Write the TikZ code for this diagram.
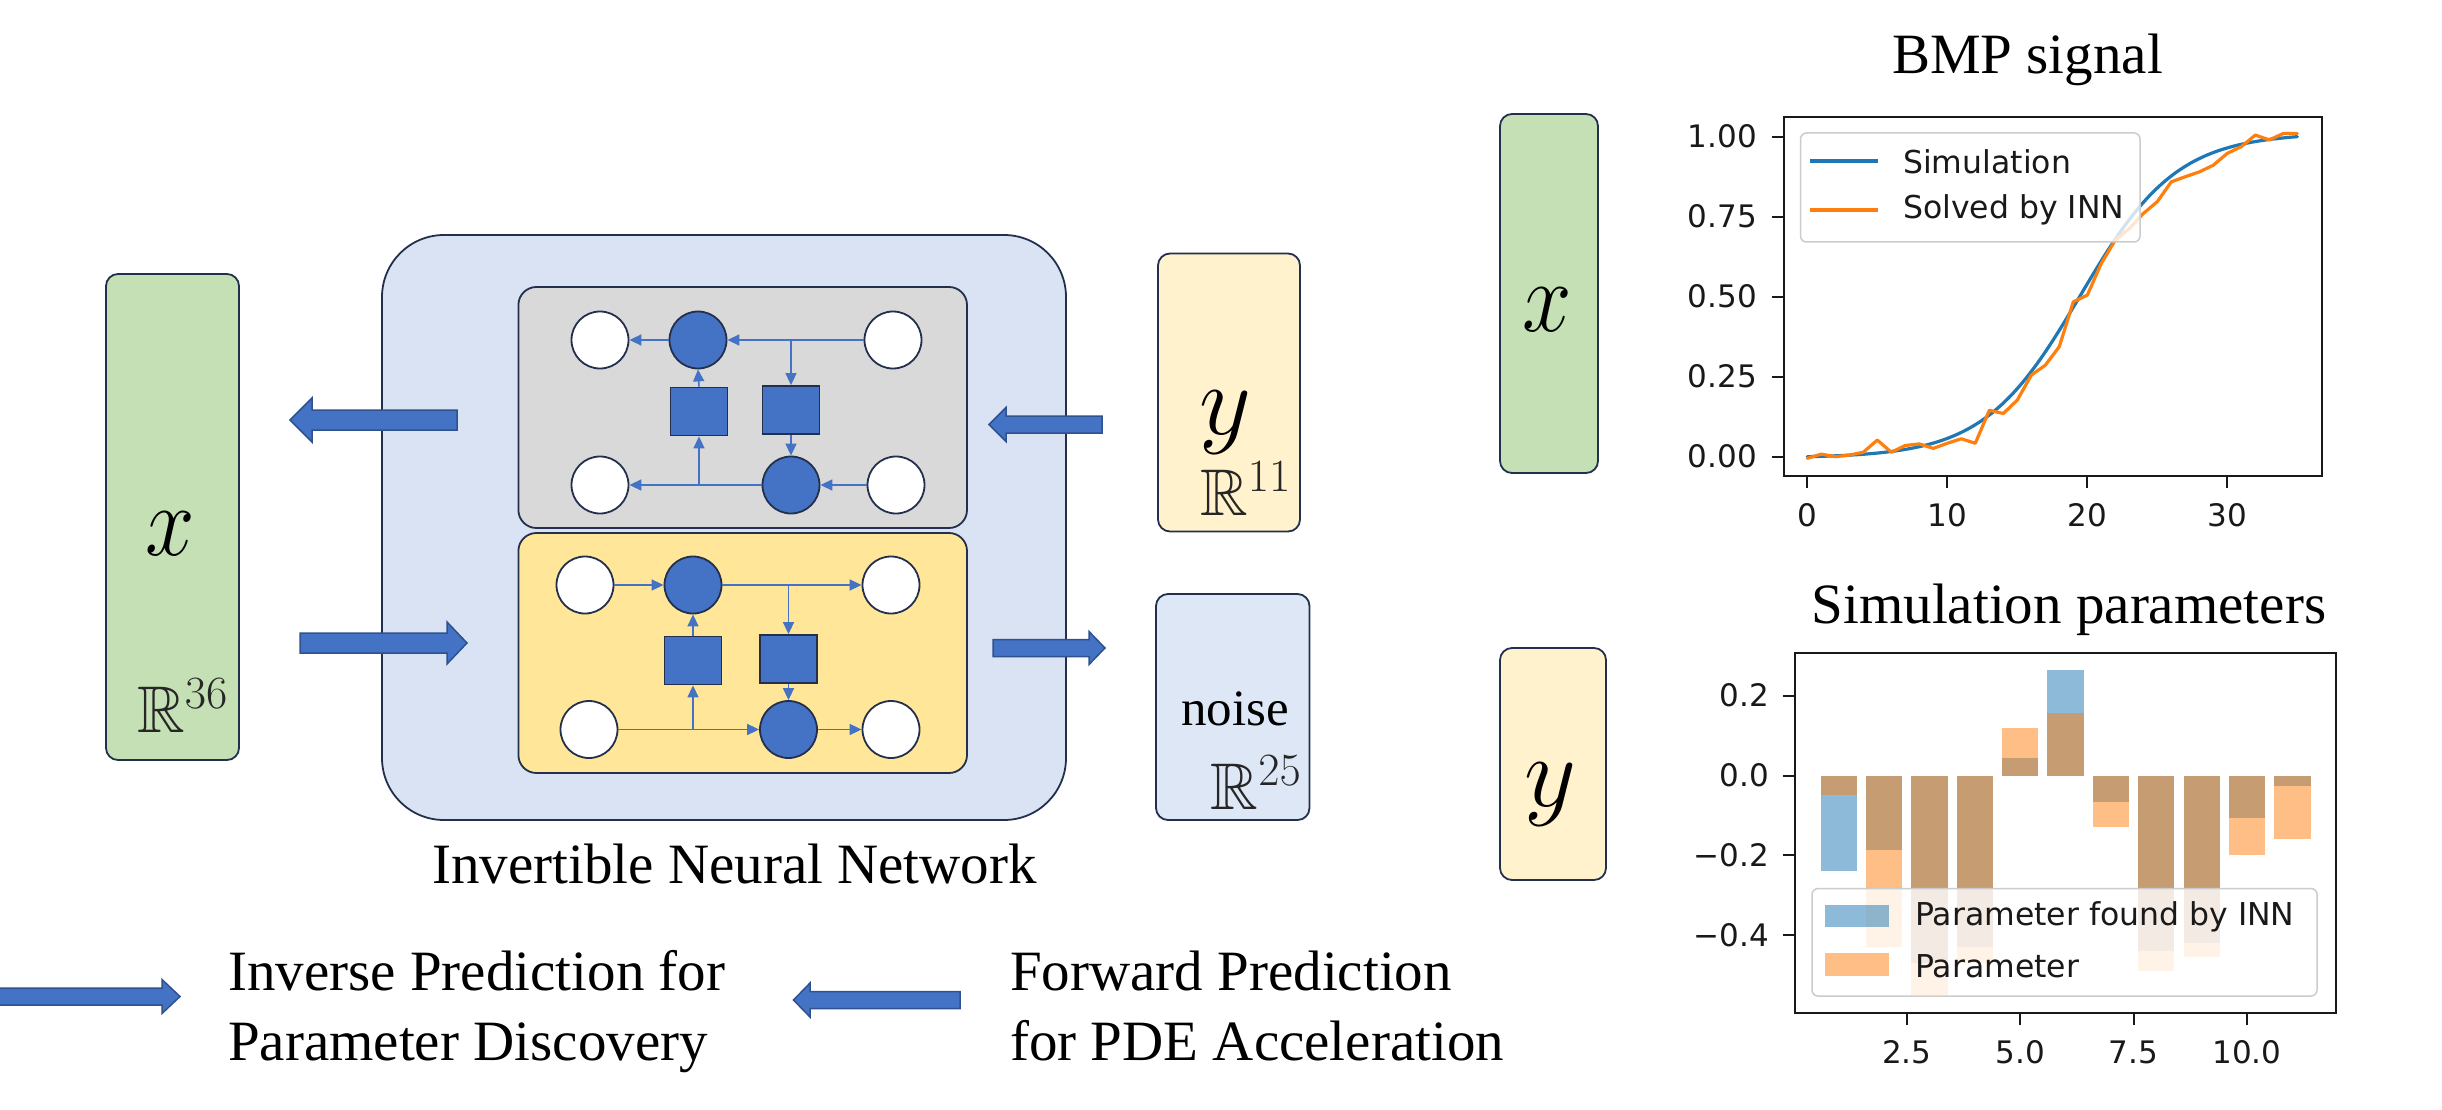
\RequirePackage{fix-cm}
\documentclass[tikz,border=0pt]{standalone}
\usepackage{graphicx}
\usepackage{amssymb}
\usepackage{fontspec}
\setmainfont{Liberation Serif}
\newfontfamily\dvsans{DejaVu Sans}
\usetikzlibrary{arrows.meta}
\definecolor{bordc}{HTML}{23304D}
\definecolor{innbg}{HTML}{DAE3F3}
\definecolor{greybg}{HTML}{D9D9D9}
\definecolor{yelbg}{HTML}{FFE699}
\definecolor{ybox}{HTML}{FFF2CC}
\definecolor{xbox}{HTML}{C5E0B4}
\definecolor{noisebg}{HTML}{DDE7F5}
\definecolor{accent}{HTML}{4472C4}
\definecolor{accentdark}{HTML}{2F528F}
\definecolor{tabblue}{HTML}{1F77B4}
\definecolor{taborange}{HTML}{FF7F0E}
\newcommand{\blockarr}[6]{%
  \draw[bigarr] ({#1},{#4-#5}) -- ({#2},{#4-#5}) -- ({#2},{#4-#6}) -- ({#3},{#4}) -- ({#2},{#4+#6}) -- ({#2},{#4+#5}) -- ({#1},{#4+#5}) -- cycle;}
\newcommand{\varx}{\scalebox{0.88}[1]{$x$}}
\newcommand{\vary}{$y$}
\tikzset{
  box/.style={draw=bordc, line width=1.8pt, rounded corners=12pt, inner sep=0pt},
  bigarr/.style={fill=accent, draw=accentdark, line width=1.5pt},
  wcirc/.style={circle, draw=bordc, fill=white, line width=1.8pt, minimum size=57pt, inner sep=0pt},
  bcirc/.style={circle, draw=bordc, fill=accent, line width=1.8pt, minimum size=57pt, inner sep=0pt},
  bsq/.style={rectangle, draw=bordc, fill=accent, line width=1.8pt, minimum width=57pt, minimum height=48pt, inner sep=0pt},
  thinarr/.style={draw=accent, line width=1.6pt, -{Triangle[length=12pt,width=11pt]}},
  serif/.style={inner sep=0pt, font=\fontsize{57}{57}\selectfont},
  mathbig/.style={inner sep=0pt, font=\fontsize{101}{101}\selectfont},
  dimtxt/.style={inner sep=0pt, text=black!85, font=\fontsize{66}{66}\selectfont},
  ticklab/.style={inner sep=0pt, font=\dvsans\fontsize{31}{31}\selectfont, text=black!90},
  legtxt/.style={inner sep=0pt, font=\dvsans\fontsize{31.5}{31.5}\selectfont, text=black!90, anchor=west},
  spine/.style={draw=black!90, line width=2.2pt},
  tickm/.style={draw=black!90, line width=2pt},
  curve/.style={line width=3.2pt, line join=round, line cap=round},
  legbox/.style={draw=black!20, fill=white, fill opacity=0.8, line width=1.5pt, rounded corners=6pt}
}
\begin{document}
\begin{tikzpicture}[x=1pt,y=-1pt]
\useasboundingbox (0,0) rectangle (2442,1110);
\fill[white] (0,0) rectangle (2442,1110);

% ---------------- left x box
\node[box, fill=xbox, minimum width=133pt, minimum height=486pt] (xl) at (172.5,517) {};
\node[mathbig, anchor=base] (xlt) at (170,555) {\varx};
\node[dimtxt, anchor=base west] (xlr) at (137,732) {$\mathbb{R}^{36}$};

% ---------------- INN
\node[box, fill=innbg, rounded corners=62pt, minimum width=684pt, minimum height=585pt] (inn) at (724,527.5) {};
\node[box, fill=greybg, rounded corners=18pt, minimum width=448.6pt, minimum height=241pt] (grey) at (742.7,407.5) {};
\node[box, fill=yelbg, rounded corners=18pt, minimum width=448.6pt, minimum height=240pt] (yel) at (742.7,653) {};

% grey block (reverse)
\node[wcirc] (gTL) at (600,340) {};
\node[bcirc] (gTB) at (698,340) {};
\node[wcirc] (gTR) at (893,340) {};
\node[wcirc] (gBL) at (600,485) {};
\node[bcirc] (gBB) at (791,485) {};
\node[wcirc] (gBR) at (896,485) {};
\node[bsq] (gSL) at (699,411.5) {};
\node[bsq] (gSR) at (791,410) {};
\draw[thinarr] (gTR.west) -- (gTB.east);
\draw[thinarr] (gTB.west) -- (gTL.east);
\draw[thinarr] (gSR.north |- gTB.east) -- (gSR.north);
\draw[thinarr] (gSR.south) -- (gBB.north);
\draw[thinarr] (gBR.west) -- (gBB.east);
\draw[thinarr] (gBB.west) -- (gBL.east);
\draw[thinarr] (gSL.south |- gBB.west) -- (gSL.south);
\draw[thinarr] (gSL.north) -- (gTB.south);

% yellow block (forward)
\node[wcirc] (yTL) at (585,585) {};
\node[bcirc] (yTB) at (693,585) {};
\node[wcirc] (yTR) at (891,585) {};
\node[wcirc] (yBL) at (589,729.5) {};
\node[bcirc] (yBB) at (788.5,729.5) {};
\node[wcirc] (yBR) at (891,729.5) {};
\node[bsq] (ySL) at (693,660.5) {};
\node[bsq] (ySR) at (788.5,659) {};
\draw[thinarr] (yTL.east) -- (yTB.west);
\draw[thinarr] (yTB.east) -- (yTR.west);
\draw[thinarr] (ySR.north |- yTB.east) -- (ySR.north);
\draw[thinarr] (ySR.south) -- (yBB.north);
\draw[thinarr] (yBL.east) -- (yBB.west);
\draw[thinarr] (ySL.south |- yBL.east) -- (ySL.south);
\draw[thinarr] (ySL.north) -- (yTB.south);
\draw[thinarr] (yBB.east) -- (yBR.west);

\node[serif, anchor=base west] (inntitle) at (432,883) {Invertible Neural Network};

% big arrows
\blockarr{457}{312}{290}{420}{10}{22}
\blockarr{300}{447}{467}{643}{10}{21}
\blockarr{1102}{1006}{989}{424.5}{8.5}{17}
\blockarr{993}{1089}{1105}{648}{8.5}{16.5}

% y and noise boxes
\node[box, fill=ybox, minimum width=142pt, minimum height=278pt] (yb) at (1229,392.5) {};
\node[mathbig, anchor=base] (ybt) at (1225,434) {\vary};
\node[dimtxt, anchor=base west] (ybr) at (1200,515) {$\mathbb{R}^{11}$};
\node[box, fill=noisebg, minimum width=153.5pt, minimum height=226pt] (nb) at (1232.75,707) {};
\node[inner sep=0pt, anchor=base west, font=\fontsize{51}{51}\selectfont] (nbt) at (1181,725) {noise};
\node[dimtxt, anchor=base west] (nbr) at (1210.5,809.5) {$\mathbb{R}^{25}$};

% bottom legend
\blockarr{-3}{162}{180}{996.5}{8.5}{17}
\node[serif, anchor=base west] (inv1) at (228,990) {Inverse Prediction for};
\node[serif, anchor=base west] (inv2) at (228,1060) {Parameter Discovery};
\blockarr{960}{810}{793.5}{1000}{8.5}{17}
\node[serif, anchor=base west] (fwd1) at (1010,990) {Forward Prediction};
\node[serif, anchor=base west] (fwd2) at (1010,1060) {for PDE Acceleration};

% right boxes
\node[box, fill=xbox, minimum width=98pt, minimum height=359pt] (xr) at (1549,293.5) {};
\node[mathbig, anchor=base] (xrt) at (1547,331.5) {\varx};
\node[box, fill=ybox, minimum width=106pt, minimum height=232pt] (yr) at (1553,764) {};
\node[mathbig, anchor=base] (yrt) at (1550,806) {\vary};

% ---------------- plot 1: BMP signal
\node[serif, anchor=base] (t1) at (2027.5,74) {BMP signal};
\begin{scope}[shift={(1807.3,456.7)},x=14pt,y=320pt]
  \draw[tabblue, curve] plot[domain=0:35, samples=120] (\x,{(1/(1+exp(-0.29*(\x-19.5)))-0.0035)/0.9855});
  \draw[taborange, curve] plot coordinates {(0,-0.005) (1,0.008) (2,0.0) (3,0.005) (4,0.014) (5,0.052) (6,0.014) (7,0.035) (8,0.04) (9,0.026) (10,0.042) (11,0.056) (12,0.042) (13,0.145) (14,0.135) (15,0.177) (16,0.255) (17,0.286) (18,0.344) (19,0.484) (20,0.505) (21,0.604) (22,0.677) (23,0.713) (24,0.76) (25,0.797) (26,0.859) (27,0.875) (28,0.89) (29,0.911) (30,0.948) (31,0.969) (32,1.005) (33,0.99) (34,1.01) (35,1.01)};
\end{scope}
\draw[legbox] (1800.5,133) rectangle (2140,242);
\draw[tabblue, line width=3.5pt] (1809.5,161) -- (1877.5,161);
\draw[taborange, line width=3.5pt] (1809.5,210) -- (1877.5,210);
\node[legtxt] (l1a) at (1903,162) {Simulation};
\node[legtxt] (l1b) at (1903,210) {Solved by INN};
\draw[spine] (1783.7,117.3) rectangle (2321.6,476);
\foreach \v/\yy in {0.00/456.7,0.25/376.7,0.50/296.7,0.75/216.7,1.00/136.7}{
  \draw[tickm] (1783.7,\yy) -- (1771.7,\yy);
  \node[ticklab, anchor=east] at (1757,\yy) {\v};
}
\foreach \t/\xx in {0/1807.3,10/1947.3,20/2087.3,30/2227.3}{
  \draw[tickm] (\xx,476) -- (\xx,488);
  \node[ticklab, anchor=north] at (\xx,503.5) {\t};
}

% ---------------- plot 2: Simulation parameters
\node[serif, anchor=base west] (t2) at (1811.5,623.3) {Simulation parameters};
\begin{scope}[shift={(1793.5,775.5)},x=45.35pt,y=399pt]
  \foreach \t/\b in {1/-0.239,2/-0.187,3/-0.47,4/-0.43,5/0.043,6/0.264,7/-0.066,8/-0.44,9/-0.42,10/-0.107,11/-0.026}{
    \fill[tabblue, fill opacity=0.5] (\t-0.4,0) rectangle (\t+0.4,\b);
  }
  \foreach \t/\o in {1/-0.049,2/-0.429,3/-0.55,4/-0.47,5/0.118,6/0.157,7/-0.13,8/-0.489,9/-0.454,10/-0.199,11/-0.159}{
    \fill[taborange, fill opacity=0.5] (\t-0.4,0) rectangle (\t+0.4,\o);
  }
\end{scope}
\draw[legbox] (1812,888.5) rectangle (2317,996);
\fill[tabblue, fill opacity=0.5] (1825,905) rectangle (1889,927);
\fill[taborange, fill opacity=0.5] (1825,953) rectangle (1889,976);
\node[legtxt] (l2a) at (1915,917) {Parameter found by INN};
\node[legtxt] (l2b) at (1915,966) {Parameter};
\draw[spine] (1795.3,653.3) rectangle (2336.3,1012.7);
\foreach \v/\yy in {0.2/695.7,0.0/775.5,\textminus0.2/855.3,\textminus0.4/935.1}{
  \draw[tickm] (1795.3,\yy) -- (1783.3,\yy);
  \node[ticklab, anchor=east] at (1769.4,\yy) {\v};
}
\foreach \t/\xx in {2.5/1906.9,5.0/2020.3,7.5/2133.6,10.0/2247}{
  \draw[tickm] (\xx,1012.7) -- (\xx,1024.7);
  \node[ticklab, anchor=north] at (\xx,1040.5) {\t};
}
\end{tikzpicture}
\end{document}
